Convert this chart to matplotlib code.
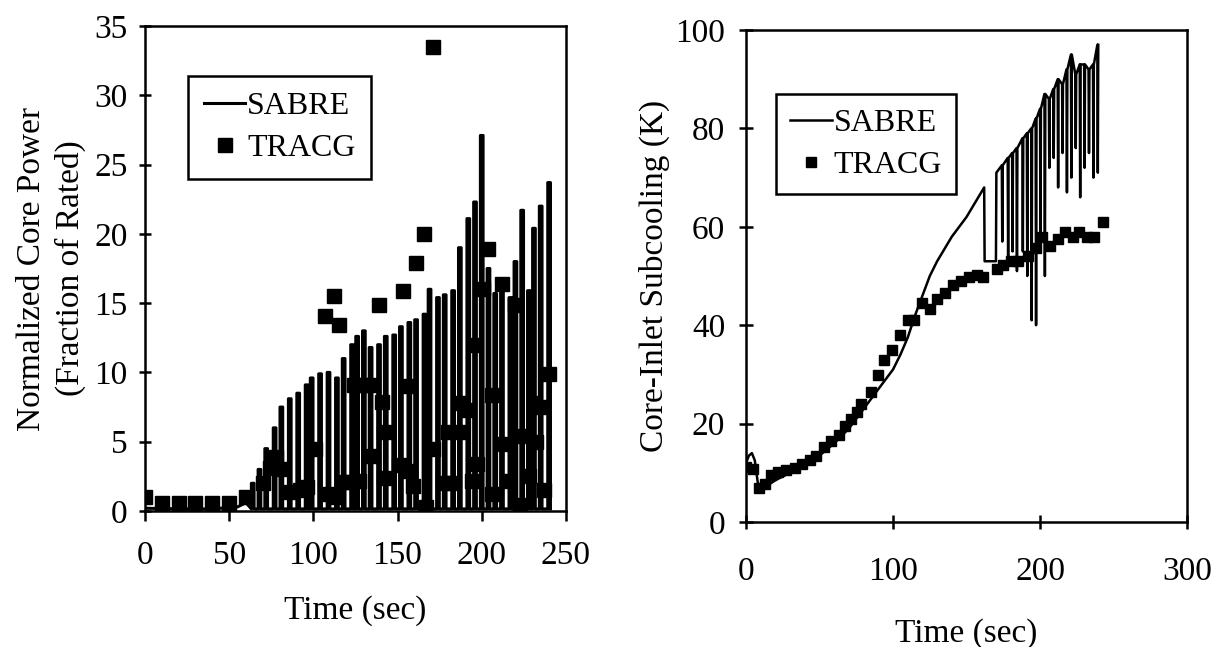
import numpy as np
import matplotlib.pyplot as plt

plt.rcParams['font.family'] = ['Liberation Serif', 'DejaVu Serif']

# ---------------- left panel data: normalized core power ----------------
pw_base_t = [0, 20, 40, 55, 60]
pw_base_y = [0.2, 0.15, 0.15, 0.3, 0.6]
pw_spike_t = [64, 68, 72, 77, 81, 86, 91, 96, 99, 104, 109, 114, 118, 123, 126,
              130, 134, 139, 143, 148, 152, 157, 161, 166, 169, 174, 178, 183,
              187, 192, 196, 200, 204, 208, 212, 217, 220, 224, 228, 231, 235, 240]
pw_spike_y = [2.0, 3.0, 4.5, 6.0, 7.5, 8.1, 8.5, 9.1, 9.6, 9.9, 10.0, 9.6, 11.0,
              12.0, 12.6, 13.0, 11.8, 12.0, 12.6, 12.7, 13.3, 13.6, 13.8, 14.2,
              16.0, 15.4, 15.6, 15.9, 19.0, 21.1, 22.3, 27.1, 17.5, 15.7, 16.6,
              15.4, 18.0, 21.7, 15.9, 20.4, 22.0, 23.7]
pw_trough = 0.15

tracg_pw_t = [0, 10, 20, 30, 40, 50, 60, 70, 74, 78, 82, 87, 92, 96, 101, 107,
              108, 112, 112, 115, 118, 123, 124, 127, 128, 133, 134, 139, 141,
              142, 142, 151, 153, 156, 157, 159, 161, 166, 167, 171, 171, 177,
              180, 182, 186, 187, 191, 194, 196, 197, 201, 204, 206, 206, 212,
              214, 215, 220, 222, 223, 228, 231, 232, 235, 237, 240]
tracg_pw_y = [1.0, 0.6, 0.6, 0.6, 0.6, 0.6, 1.0, 2.0, 3.1, 3.9, 3.0, 1.4, 1.5,
              1.7, 4.5, 14.1, 1.2, 15.5, 1.0, 13.4, 2.1, 2.1, 9.1, 2.2, 9.1, 9.1,
              4.0, 14.9, 7.9, 5.7, 2.4, 3.3, 15.9, 2.9, 9.0, 1.8, 17.9, 20.0, 0.3,
              33.5, 4.5, 2.0, 5.7, 2.0, 5.7, 7.8, 7.3, 2.2, 12.0, 3.4, 16.0, 18.9,
              8.4, 1.2, 16.4, 4.8, 2.2, 14.9, 5.4, 0.4, 2.5, 7.8, 5.0, 7.5, 1.5, 9.9]

# ---------------- right panel data: core-inlet subcooling ----------------
sc_smooth_t = [0, 2, 4, 6, 8, 10, 15, 20, 30, 40, 50, 60, 70, 80, 90, 100, 105,
               110, 115, 120, 125, 130, 135, 140, 145, 150, 155, 160, 162]
sc_smooth_y = [12, 13.5, 14, 12.5, 8, 7, 7.5, 8.5, 10, 11.5, 13.5, 16, 19, 23,
               27, 31, 34, 37.5, 42, 46, 50, 53, 55.5, 58, 60, 62, 64.5, 67, 68]
# first drop at 162 s holds low until 170 s
sc_hold_t = [162.3, 170, 170.3]
sc_hold_y = [53, 53, 71]
sc_osc_t = [174, 178, 181, 184, 188, 191, 194, 197, 200, 203, 206, 209, 212,
            215, 218, 221, 224, 227, 230, 233, 236, 239]
sc_osc_top = [72.5, 74, 75, 76, 78, 79, 80, 82, 84, 87, 86, 88, 90, 89, 92, 95,
              91, 93, 93, 92, 93, 97]
sc_osc_low = [57, 53, 55, 51, 55, 50, 41, 40, 56, 50, 72, 74, 68, 75, 67, 70,
              76, 66, 72, 75, 70, 71]

tracg_sc_t = [0, 5, 9, 13, 17, 22, 27.5, 33, 38, 43.5, 47.5, 53, 58, 63.5, 67.5,
              71.5, 75.5, 78.5, 85, 90, 94, 99.5, 105, 110, 114, 119.5, 125, 130,
              135.5, 141, 146, 152, 157, 161, 170.5, 174.5, 180, 185, 192, 197,
              201, 206.5, 212, 217, 222.5, 226.5, 232, 237, 242.5]
tracg_sc_y = [11.1, 10.7, 7.0, 7.8, 9.5, 10.2, 10.6, 11.0, 11.8, 12.6, 13.5, 15.2,
              16.5, 17.7, 19.5, 21.0, 22.4, 24.0, 26.5, 29.9, 33.0, 35.0, 38.0,
              41.0, 41.0, 44.5, 43.2, 45.3, 46.5, 48.2, 49.0, 49.9, 50.3, 49.9,
              51.5, 52.3, 53.0, 53.0, 54.0, 55.6, 58.0, 56.0, 57.6, 59.0, 58.0,
              59.0, 58.0, 58.0, 61.0]

# build the traces from the read-off values
pw_t = list(pw_base_t)
pw_y = list(pw_base_y)
for t, y in zip(pw_spike_t, pw_spike_y):
    pw_t += [t - 0.8, t - 0.8, t + 0.8, t + 0.8]
    pw_y += [pw_trough, y, y, pw_trough]

sc_t = list(sc_smooth_t) + sc_hold_t
sc_y = list(sc_smooth_y) + sc_hold_y
for t, top, low in zip(sc_osc_t, sc_osc_top, sc_osc_low):
    sc_t += [t, t + 0.3, t + 0.6]
    sc_y += [top, low, top]

fig = plt.figure(figsize=(12.15, 6.47), dpi=100)
ax1 = fig.add_axes([0.1193, 0.2102, 0.3465, 0.7496])
ax2 = fig.add_axes([0.614, 0.1932, 0.363, 0.7604])

FS = 24
LFS = 23

# ---------------- left plot ----------------
ax1.plot(pw_t, pw_y, color='black', linewidth=2.2, label='SABRE')
ax1.plot(tracg_pw_t, tracg_pw_y, linestyle='none', marker='s', markersize=9.5,
         color='black', label='TRACG')
ax1.set_xlim(0, 250)
ax1.set_ylim(0, 35)
ax1.set_xticks(range(0, 251, 50))
ax1.set_yticks(range(0, 36, 5))
ax1.tick_params(axis='y', direction='inout', length=9, width=1.8, pad=8,
                labelsize=FS)
ax1.tick_params(axis='x', direction='out', length=7, width=1.8, pad=14,
                labelsize=FS)
ax1.set_xlabel('Time (sec)', fontsize=FS, labelpad=18)
ax1.set_ylabel('Normalized Core Power\n(Fraction of Rated)', fontsize=FS,
               labelpad=6, linespacing=1.3)
leg1 = ax1.legend(loc='upper left', bbox_to_anchor=(0.102, 0.897),
                  borderaxespad=0, fontsize=LFS, frameon=True, fancybox=False,
                  framealpha=1, edgecolor='black', handlelength=1.3,
                  handletextpad=0.05, borderpad=0.5, labelspacing=0.4)
leg1.get_frame().set_linewidth(1.8)

# ---------------- right plot ----------------
ax2.plot(sc_t, sc_y, color='black', linewidth=1.8, label='SABRE')
ax2.plot(tracg_sc_t, tracg_sc_y, linestyle='none', marker='s', markersize=7,
         color='black', label='TRACG')
ax2.set_xlim(0, 300)
ax2.set_ylim(0, 100)
ax2.set_xticks(range(0, 301, 100))
ax2.set_yticks(range(0, 101, 20))
ax2.tick_params(axis='both', direction='inout', length=10, width=1.8,
                labelsize=FS)
ax2.tick_params(axis='y', pad=10)
ax2.tick_params(axis='x', pad=20)
ax2.set_xlabel('Time (sec)', fontsize=FS, labelpad=22)
ax2.set_ylabel('Core-Inlet Subcooling (K)', fontsize=FS, labelpad=4)
leg2 = ax2.legend(loc='upper left', bbox_to_anchor=(0.068, 0.87),
                  borderaxespad=0, fontsize=LFS, frameon=True, fancybox=False,
                  framealpha=1, edgecolor='black', handlelength=1.3,
                  handletextpad=0.05, borderpad=0.45, labelspacing=0.4)
leg2.get_frame().set_linewidth(1.8)

for ax in (ax1, ax2):
    for s in ax.spines.values():
        s.set_linewidth(1.8)

fig.savefig('out.png', dpi=100)
